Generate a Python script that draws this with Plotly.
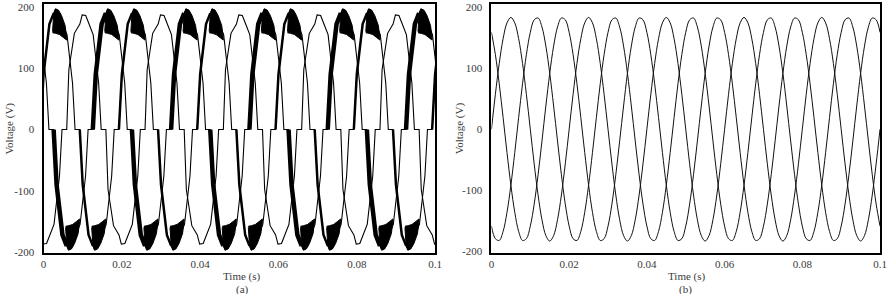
import plotly.graph_objects as go

# ---------------- DATA ----------------
# Panel (a): distorted inverter phase voltages. One half-wave ("lobe") template,
# read from the chart: offsets in ms from the lobe centre and voltages (V).
clean_lobe_offset_ms = [-4.35, -3.8, -2.4, -1.6, -1.0, -0.4, 0.5, 1.0, 1.9, 2.4, 3.8, 4.45]
clean_lobe_v = [0, 98, 157, 165, 172, 187, 186, 178, 162, 155, 76, 0]

ripple_lobe_offset_ms = [-4.35, -3.6, -2.1, -1.0, -0.4, 0.5, 1.3, 2.4, 3.8, 4.45]
ripple_lobe_v = [0, 90, 172, 190, 196, 190, 172, 155, 76, 0]

# black switching-ripple blob on top of a rippled lobe (closed outline)
blob_offset_ms = [-1.3, -1.0, -0.6, 0.2, 1.0, 1.9, 2.3, 2.3, 1.5, 0.5, -0.5, -1.3]
blob_v = [160, 190, 197, 195, 186, 170, 150, 146, 150, 155, 157, 158]
# thick leading edge of a rippled lobe
ripple_side_offset_ms = [-4.35, -3.6, -2.1, -1.0]
ripple_side_v = [0, 90, 172, 190]

phase_names = ["A", "B", "C"]
pos_lobe_centre_ms = [3.6, 10.27, 16.93]     # centre of first positive lobe
phase_rippled = [True, False, True]
period_ms = 20.0
span_ms = 100.0

# Panel (b): ideal three-phase sine voltages, one period sampled every 1 ms (V)
sine_t_ms = list(range(20))
sine_a = [0, 56.6, 107.6, 148.1, 174.0, 183.0, 174.0, 148.1, 107.6, 56.6,
          0, -56.6, -107.6, -148.1, -174.0, -183.0, -174.0, -148.1, -107.6, -56.6]
sine_b = [158.5, 122.5, 74.4, 19.1, -38.0, -91.5, -136.0, -167.2, -182.0, -179.0,
          -158.5, -122.5, -74.4, -19.1, 38.0, 91.5, 136.0, 167.2, 182.0, 179.0]
sine_c = [-158.5, -179.0, -182.0, -167.2, -136.0, -91.5, -38.0, 19.1, 74.4, 122.5,
          158.5, 179.0, 182.0, 167.2, 136.0, 91.5, 38.0, -19.1, -74.4, -122.5]

y_tick_vals = [-200, -100, 0, 100, 200]
y_tick_text = ["-200", "-100", "0", "100", "200"]
x_tick_vals = [0, 0.02, 0.04, 0.06, 0.08, 0.1]
x_tick_text = ["0", "0.02", "0.04", "0.06", "0.08", "0.1"]

# ---------------- STYLE ----------------
FONT = "Liberation Serif"
TXT = "#3a3a3a"
side_width = {"A": 2.5, "C": 4.5}

fig = go.Figure()

# ---- panel (a)
n_lo, n_hi = -1, int(span_ms / period_ms) + 1
for name, c0, rip in zip(phase_names, pos_lobe_centre_ms, phase_rippled):
    offs = ripple_lobe_offset_ms if rip else clean_lobe_offset_ms
    vals = ripple_lobe_v if rip else clean_lobe_v
    xs, ys = [], []
    bx, by, sx, sy = [], [], [], []
    for k in range(n_lo, n_hi):
        for half, sign in ((0, 1), (1, -1)):
            c = c0 + k * period_ms + half * period_ms / 2
            xs += [(c + o) / 1000 for o in offs]
            ys += [sign * v for v in vals]
            if rip:
                bx += [(c + o) / 1000 for o in blob_offset_ms] + [None]
                by += [sign * v for v in blob_v] + [None]
                sx += [(c + o) / 1000 for o in ripple_side_offset_ms] + [None]
                sy += [sign * v for v in ripple_side_v] + [None]
    fig.add_trace(go.Scatter(x=xs, y=ys, mode="lines", xaxis="x", yaxis="y",
                             line=dict(color="black", width=1.1), showlegend=False))
    if rip:
        fig.add_trace(go.Scatter(x=sx, y=sy, mode="lines", xaxis="x", yaxis="y",
                                 line=dict(color="black", width=side_width[name]),
                                 showlegend=False))
        fig.add_trace(go.Scatter(x=bx, y=by, mode="lines", fill="toself",
                                 fillcolor="black", xaxis="x", yaxis="y",
                                 line=dict(color="black", width=1), showlegend=False))

# ---- panel (b)
n_per = int(span_ms / period_ms)
for series in (sine_a, sine_b, sine_c):
    xs, ys = [], []
    for k in range(n_per):
        xs += [(k * period_ms + t) / 1000 for t in sine_t_ms]
        ys += series
    xs.append(span_ms / 1000)
    ys.append(series[0])
    fig.add_trace(go.Scatter(x=xs, y=ys, mode="lines", xaxis="x2", yaxis="y2",
                             line=dict(color="#111111", width=1, shape="spline"),
                             showlegend=False))

W, H = 890, 294
ax_common = dict(showline=True, linecolor="black", linewidth=2, mirror=True,
                 showgrid=False, zeroline=False, ticks="",
                 tickfont=dict(family=FONT, size=11, color=TXT))
fig.update_layout(
    width=W, height=H, margin=dict(l=0, r=0, t=4, b=41),
    paper_bgcolor="white", plot_bgcolor="white",
    xaxis=dict(domain=[41 / W, 437 / W], range=[0, 0.1], anchor="y",
               tickvals=x_tick_vals, ticktext=x_tick_text, **ax_common),
    yaxis=dict(domain=[0, 1], range=[-201.6, 204.9], anchor="x",
               tickvals=y_tick_vals, ticktext=y_tick_text, ticklabelstandoff=5, **ax_common),
    xaxis2=dict(domain=[494 / W, 887 / W], range=[0, 0.1], anchor="y2",
                tickvals=x_tick_vals, ticktext=x_tick_text, **ax_common),
    yaxis2=dict(domain=[0, 1], range=[-202.5, 204.9], anchor="x2",
                tickvals=y_tick_vals, ticktext=y_tick_text, ticklabelstandoff=5, **ax_common),
)

ann_font = dict(family=FONT, size=11, color=TXT)
annots = [
    dict(text="Voltage (V)", x=7 / W, y=0.5, textangle=-90),
    dict(text="Voltage (V)", x=462 / W, y=0.5, textangle=-90),
    dict(text="Time (s)", x=242 / W, y=(253 - 276) / 249),
    dict(text="(a)", x=242 / W, y=(253 - 289) / 249),
    dict(text="Time (s)", x=692 / W, y=(253 - 276) / 249),
    dict(text="(b)", x=690 / W, y=(253 - 289) / 249),
]
for a in annots:
    fig.add_annotation(xref="paper", yref="paper", showarrow=False,
                       xanchor="center", yanchor="middle", font=ann_font, **a)

fig.write_html("out.html")
